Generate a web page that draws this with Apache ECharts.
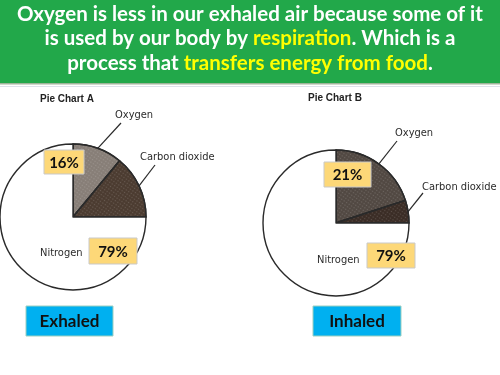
<!DOCTYPE html>
<html>
<head>
<meta charset="utf-8">
<style>
html,body{margin:0;padding:0;background:#fff;}
#chart{width:500px;height:375px;}
</style>
<script src="https://cdn.jsdelivr.net/npm/echarts@6/dist/echarts.min.js"></script>
</head>
<body>
<div id="chart"></div>
<script>
// ---- data ----
const categories = ['Oxygen', 'Carbon dioxide', 'Nitrogen'];
const exhaledValues = [11, 14, 75];   // sector sizes as drawn in Pie Chart A
const inhaledValues = [20, 5, 75];    // sector sizes as drawn in Pie Chart B
const exhaledPercent = ['16%', '79%']; // overlay labels (oxygen, nitrogen)
const inhaledPercent = ['21%', '79%'];
const chartTitles = ['Pie Chart A', 'Pie Chart B'];
const groupLabels = ['Exhaled', 'Inhaled'];
const headline = ['Oxygen is less in our exhaled air because some of it',
                  'is used by our body by ', 'respiration', '. Which is a',
                  'process that ', 'transfers energy from food', '.'];

// ---- layout ----
const R = 73;
const pies = [
  {center: [73, 217], values: exhaledValues,
   colors: ['#877e77', '#4b3b30', '#ffffff'],
   labels: [{x: 115, y: 115, tip: [121, 123]}, {x: 140, y: 157, tip: [155, 165]}, {x: 40, y: 253}]},
  {center: [336, 223], values: inhaledValues,
   colors: ['#514842', '#3a2c25', '#ffffff'],
   labels: [{x: 395, y: 133, tip: [397, 141]}, {x: 422, y: 187, tip: [423, 193]}, {x: 317, y: 260}]}
];
const labelFont = '"Liberation Sans Narrow", "DejaVu Sans Condensed", Arial, sans-serif';

function pieSeries(p) {
  return {
    type: 'pie',
    center: p.center,
    radius: [0, R],
    startAngle: 90,
    clockwise: true,
    silent: true,
    animation: false,
    avoidLabelOverlap: false,
    data: categories.map((c, i) => ({
      name: c,
      value: p.values[i],
      itemStyle: {
        color: p.colors[i],
        borderColor: '#2a2a2a',
        borderWidth: 1.4,
        decal: i < 2 ? {symbol: 'circle', symbolSize: 0.5, dashArrayX: [3, 0], dashArrayY: [3, 0],
                        color: 'rgba(255,255,255,0.16)', rotation: 0.6} : null
      },
      labelLine: {show: i < 2}
    })),
    label: {
      show: true,
      position: 'outside',
      color: '#2b2b2b',
      fontSize: 11,
      fontFamily: labelFont,
      overflow: 'none',
      width: 200,
      edgeDistance: 0,
      formatter: '{b}'
    },
    labelLine: {show: true, lineStyle: {color: '#2a2a2a', width: 1.2}},
    labelLayout: function (params) {
      const L = p.labels[params.dataIndex];
      const out = {x: L.x, y: L.y, align: 'left', verticalAlign: 'middle', hideOverlap: false, moveOverlap: false};
      if (L.tip) {
        let cum = 0;
        const total = p.values.reduce((a, b) => a + b, 0);
        for (let k = 0; k < params.dataIndex; k++) cum += p.values[k];
        const mid = (cum + p.values[params.dataIndex] / 2) / total * Math.PI * 2;
        const edge = [p.center[0] + R * Math.sin(mid), p.center[1] - R * Math.cos(mid)];
        out.labelLinePoints = [edge, L.tip, L.tip];
      }
      return out;
    }
  };
}

function box(cx, cy, w, h, fill, stroke, text, size) {
  return {
    type: 'group',
    children: [
      {type: 'rect', shape: {x: cx - w / 2, y: cy - h / 2, width: w, height: h},
       style: {fill: fill, stroke: stroke, lineWidth: 1}, z: 10},
      {type: 'text', x: cx, y: cy + 1, z: 11,
       style: {text: text, fill: '#111', font: 'bold ' + size + 'px Lato, "Open Sans", sans-serif',
               align: 'center', verticalAlign: 'middle'}}
    ]
  };
}

const chart = echarts.init(document.getElementById('chart'), null, {renderer: 'canvas'});
chart.setOption({
  backgroundColor: '#ffffff',
  title: {
    left: 250, top: 2, textAlign: 'center', padding: 0,
    text: headline[0] + '\n' + headline[1] + '{y|' + headline[2] + '}' + headline[3] + '\n' +
          headline[4] + '{y|' + headline[5] + '}' + headline[6],
    textStyle: {
      color: '#ffffff', fontSize: 20.5, fontWeight: 'bold', fontFamily: 'Lato, "Open Sans", sans-serif',
      lineHeight: 24.5,
      rich: {y: {color: '#ffff00', fontSize: 20.5, fontWeight: 'bold', fontFamily: 'Lato, "Open Sans", sans-serif', lineHeight: 24.5}}
    },
    z: 20
  },
  graphic: [
    {type: 'rect', shape: {x: 0, y: 0, width: 500, height: 83}, style: {fill: '#22a84a'}, z: 0},
    {type: 'rect', shape: {x: 0, y: 83, width: 500, height: 1.5}, style: {fill: '#9fb49a'}, z: 0},
    {type: 'rect', shape: {x: 0, y: 86, width: 500, height: 1}, style: {fill: '#dde3ea'}, z: 0},
    {type: 'text', x: 40, y: 99, style: {text: chartTitles[0], fill: '#222', font: 'bold 10px "Liberation Sans", Arial, sans-serif', verticalAlign: 'middle'}},
    {type: 'text', x: 308, y: 98, style: {text: chartTitles[1], fill: '#222', font: 'bold 10px "Liberation Sans", Arial, sans-serif', verticalAlign: 'middle'}},
    box(64, 162, 40, 24, '#fdd878', '#c9c9c9', exhaledPercent[0], 15),
    box(113, 251, 48, 26, '#fdd878', '#c9c9c9', exhaledPercent[1], 15),
    box(347.5, 174.5, 47, 25, '#fdd878', '#c9c9c9', inhaledPercent[0], 15),
    box(391, 255.5, 48, 25, '#fdd878', '#c9c9c9', inhaledPercent[1], 15),
    box(69.5, 321, 87, 30, '#00b0f0', '#9ccfc0', groupLabels[0], 17),
    box(357, 321, 88, 30, '#00b0f0', '#9ccfc0', groupLabels[1], 17)
  ],
  series: [pieSeries(pies[0]), pieSeries(pies[1])]
});
</script>
</body>
</html>
